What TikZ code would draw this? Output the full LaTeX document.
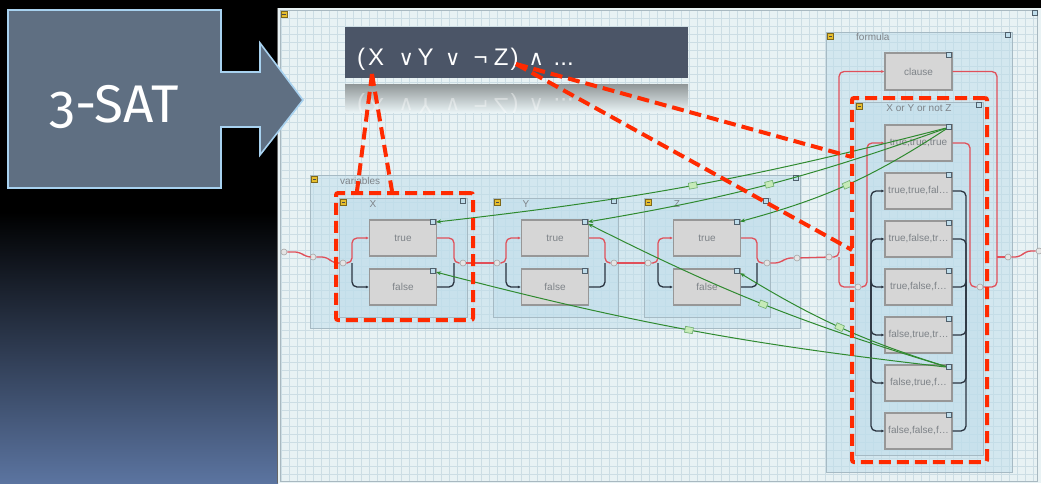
\documentclass[tikz,border=0pt]{standalone}
\usepackage{fontspec}
\setmainfont{Liberation Sans}
\newfontfamily\satfont[Numbers=OldStyle]{Fira Sans}
\newfontfamily\opfont{DejaVu Sans}
\usetikzlibrary{calc,arrows.meta}

\definecolor{slideblue}{HTML}{5B74A0}
\definecolor{canvas}{HTML}{E8F2F4}
\definecolor{gridc}{HTML}{CCDDE4}
\definecolor{framec}{HTML}{A8B8C0}
\definecolor{groupfill}{HTML}{BFDDEB}
\definecolor{groupline}{HTML}{A6BAC4}
\definecolor{cellfill}{HTML}{D6D6D6}
\definecolor{cellline}{HTML}{979797}
\definecolor{celltext}{HTML}{7E8388}
\definecolor{wirered}{HTML}{E0505A}
\definecolor{wireblack}{HTML}{2A3440}
\definecolor{linkgreen}{HTML}{2F8A2F}
\definecolor{tagfill}{HTML}{C6EAB8}
\definecolor{annot}{HTML}{FF2A00}
\definecolor{barfill}{HTML}{4B5567}
\definecolor{satfill}{HTML}{5F6F82}
\definecolor{satline}{HTML}{A8D2F0}
\definecolor{iconfill}{HTML}{E6BE2E}
\definecolor{cornerline}{HTML}{50606C}

% one glyph of the banner formula, centred on the current point
\newcommand\fglyph[1]{\makebox[0pt][c]{#1}}
\newcommand\opglyph[1]{\makebox[0pt][c]{\opfont\fontsize{21}{21}\selectfont #1}}
\newcommand\bannerformula{%
  \fglyph{(}\hspace{15pt}\fglyph{X}\hspace{30pt}\opglyph{∨}\hspace{19.5pt}\fglyph{Y}%
  \hspace{27pt}\opglyph{∨}\hspace{28pt}\fglyph{¬}\hspace{20.5pt}\fglyph{Z}%
  \hspace{13.5pt}\fglyph{)}\hspace{21.5pt}\opglyph{∧}\hspace{27.5pt}\fglyph{...}}

\begin{document}
\begin{tikzpicture}[
  x=1pt, y=-1pt,
  group/.style={draw=groupline, fill=groupfill, fill opacity=0.5, line width=0.9pt,
    inner sep=0pt, outer sep=0pt},
  cell/.style={draw=cellline, fill=cellfill, line width=1.3pt, minimum width=67pt,
    minimum height=36pt, inner sep=0pt, font=\fontsize{10}{10}\selectfont, text=celltext},
  corner/.style={draw=cornerline, fill=groupfill, line width=0.8pt, minimum size=5pt, inner sep=0pt},
  icon/.style={draw=iconfill!55!black, fill=iconfill, line width=0.5pt, minimum size=6pt, inner sep=0pt,
    path picture={\draw[black!70, line width=0.6pt]
      ([xshift=-1.6pt]path picture bounding box.center) -- ([xshift=1.6pt]path picture bounding box.center);}},
  port/.style={circle, draw=gray!70, fill=gray!20, line width=0.6pt, minimum size=6pt, inner sep=0pt},
  grouplabel/.style={text=celltext, font=\fontsize{10}{10}\selectfont, inner sep=0pt},
  redwire/.style={draw=wirered, line width=1.3pt, rounded corners=5pt},
  blackwire/.style={draw=wireblack, line width=1.3pt, rounded corners=5pt},
  tipped/.style={-{Latex[length=3pt,width=3pt]}},
  link/.style={draw=linkgreen, line width=1pt, -{Stealth[length=5pt,width=4pt]}},
  tag/.style={draw=linkgreen!70, fill=tagfill, line width=0.6pt, minimum width=8pt,
    minimum height=6pt, inner sep=0pt, sloped},
  annotation/.style={draw=annot, line width=4pt, dash pattern=on 12pt off 6pt},
]
\useasboundingbox (0,0) rectangle (1041,483);

% slide background
\fill[black] (0,0) rectangle (1041,483);
\shade[top color=black, bottom color=slideblue] (0,212) rectangle (278,483);

% editor canvas with grid
\fill[canvas] (277,8) rectangle (1041,483);
\foreach \gx in {281,289,...,1037} \draw[gridc, line width=0.5pt] (\gx,10) -- (\gx,481);
\foreach \gy in {10,18,...,481} \draw[gridc, line width=0.5pt] (281,\gy) -- (1037,\gy);
\draw[framec, line width=0.8pt] (280,10) rectangle (1037,481);
\draw[black!60, line width=1.2pt] (277.6,8) -- (277.6,483);
\node[icon] (canvas-i) at (284,14) {};
\node[corner] (canvas-k) at (1035,13) {};

% formula banner and its reflection
\node[fill=barfill, anchor=north west, minimum width=343pt, minimum height=51pt, inner sep=0pt] (bar) at (345,27) {};
\node[anchor=base west, text=white, inner sep=0pt, font=\fontsize{24}{24}\selectfont] (ftext) at (361,65)
  {\bannerformula};
\begin{scope}
  \clip (345,84) rectangle (688,112);
  \shade[top color=black!38!canvas, bottom color=canvas] (345,84) rectangle (688,112);
  \node[anchor=base west, text=white, opacity=0.4, inner sep=0pt, yscale=-1,
    font=\fontsize{24}{24}\selectfont] (frefl) at (361,98) {\bannerformula};
\end{scope}

% 3-SAT block arrow
\draw[fill=satfill, draw=satline, line width=1.6pt, line join=miter]
  (8,10) -- (221,10) -- (221,72) -- (260,72) -- (260,43) -- (303,100) -- (260,155)
  -- (260,127) -- (221,127) -- (221,188) -- (8,188) -- cycle;
\node[anchor=base, text=white, inner sep=0pt, font=\satfont\fontsize{53}{53}\selectfont] (sat) at (114,122) {3-SAT};

% containers
\node[group, anchor=north west, minimum width=490pt, minimum height=153pt] (vars) at (310,175) {};
\node[group, anchor=north west, minimum width=128pt, minimum height=119pt] (gx) at (339,198) {};
\node[group, anchor=north west, minimum width=125pt, minimum height=119pt] (gy) at (493,198) {};
\node[group, anchor=north west, minimum width=126pt, minimum height=119pt] (gz) at (644,198) {};
\node[group, anchor=north west, minimum width=186pt, minimum height=440pt] (formula) at (826,32) {};
\node[group, anchor=north west, minimum width=128pt, minimum height=353pt] (grp) at (855,102) {};
\foreach \g in {vars,gx,gy,gz,formula,grp} {
  \node[icon] (\g-i) at ($(\g.north west)+(4.5,4.5)$) {};
  \node[corner] (\g-k) at ($(\g.north east)+(-4,3)$) {};
}
\node[grouplabel, anchor=west] (vars-l) at (340,181) {variables};
\node[grouplabel] (gx-l) at (373,204) {X};
\node[grouplabel] (gy-l) at (526,204) {Y};
\node[grouplabel] (gz-l) at (677,204) {Z};
\node[grouplabel, anchor=west] (formula-l) at (856,37) {formula};
\node[grouplabel] (grp-l) at (919,108) {X or Y or not Z};

% value cells
\node[cell] (xt) at (403,238) {true};
\node[cell] (xf) at (403,287) {false};
\node[cell] (yt) at (555,238) {true};
\node[cell] (yf) at (555,287) {false};
\node[cell] (zt) at (707,238) {true};
\node[cell] (zf) at (707,287) {false};
\node[cell, minimum height=37pt] (clause) at (918.5,71.5) {clause};
\node[cell] (c1) at (918.5,143) {true,true,true};
\node[cell] (c2) at (918.5,191) {true,true,fal…};
\node[cell] (c3) at (918.5,239) {true,false,tr…};
\node[cell] (c4) at (918.5,287) {true,false,f…};
\node[cell] (c5) at (918.5,335) {false,true,tr…};
\node[cell] (c6) at (918.5,383) {false,true,f…};
\node[cell] (c7) at (918.5,431) {false,false,f…};
\foreach \c in {xt,xf,yt,yf,zt,zf,clause,c1,c2,c3,c4,c5,c6,c7}
  \node[corner] (\c-k) at ($(\c.north east)+(-4,3)$) {};

% ports
\node[port] (p0) at (284,252) {};
\node[port] (p1) at (313,257) {};
\node[port] (xin) at (343,263) {};
\node[port] (xout) at (463,263) {};
\node[port] (yin) at (497,263) {};
\node[port] (yout) at (614,263) {};
\node[port] (zin) at (648,263) {};
\node[port] (zout) at (767,263) {};
\node[port] (vout) at (797,258) {};
\node[port] (fin) at (829,257) {};
\node[port] (gin) at (858,287) {};
\node[port] (gout) at (980,287) {};
\node[port] (fout) at (1008,257) {};
\node[port] (pend) at (1039,251) {};

% flow between the variables
\draw[redwire] (p0) -- (300,252) -- (306,257) -- (p1);
\draw[redwire] (p1) -- (327,257) -- (333,263) -- (xin);
\draw[redwire] (xout) -- (yin);
\draw[redwire] (yout) -- (zin);
\draw[redwire] (zout) -- (780,263) -- (786,258) -- (vout);
\draw[redwire] (vout) -- (fin);
\draw[redwire] (fout) -- (1020,257) -- (1026,251) -- (pend);

% branches inside each variable
\foreach \v/\jl/\jr in {x/352/454, y/506/605, z/658/757} {
  \draw[blackwire, tipped] (\jl,263) |- (\v f.west);
  \draw[blackwire] (\v f.east) -| (\jr,263);
  \draw[redwire, tipped] (\v in) -- (\jl,263) |- (\v t.west);
  \draw[redwire] (\v t.east) -| (\jr,263) -- (\v out);
}

% formula loop
\draw[redwire, tipped] (fin) -- (839,257) |- (clause.west);
\draw[redwire] (839,257) |- (gin);
\draw[redwire] (clause.east) -| (997,287) -- (gout);
\draw[redwire] (997,257) -- (fout);

% clause rows
\foreach \k in {2,...,7} {
  \draw[blackwire, tipped] (871,287) |- (c\k.west);
  \draw[blackwire] (c\k.east) -| (966,287);
}
\draw[redwire, tipped] (gin) -- (867,287) |- (c1.west);
\draw[redwire] (c1.east) -| (970,287) -- (gout);

% literal links
\draw[link] (c1-k) to[bend left=4] node[tag] {} (xt-k);
\draw[link] (c1-k) to[bend left=5] node[tag] {} (yt-k);
\draw[link] (c1-k) to[bend left=9] node[tag] {} (zt-k);
\draw[link] (c6-k) to[bend left=4] node[tag] {} (xf-k);
\draw[link] (c6-k) to[bend left=5] node[tag] {} (yt-k);
\draw[link] (c6-k) to[bend left=7] node[tag] {} (zf-k);

% highlighted correspondences
\coordinate (aX) at (372,74);
\coordinate (aZ) at (516,64);
\node[annotation, rounded corners=2pt, anchor=north west, minimum width=137pt, minimum height=127pt,
  inner sep=0pt] (boxX) at (334,191) {};
\node[annotation, rounded corners=2pt, anchor=north west, minimum width=135pt, minimum height=364pt,
  inner sep=0pt] (boxG) at (850,96) {};
\draw[annotation] (aX) -- ($(boxX.north west)+(23,0)$);
\draw[annotation] (aX) -- ($(boxX.north west)+(58,0)$);
\draw[annotation] (aZ) -- ($(boxG.north west)+(2,61)$);
\draw[annotation] (aZ) -- ($(boxG.north west)+(2,154)$);
\end{tikzpicture}
\end{document}
